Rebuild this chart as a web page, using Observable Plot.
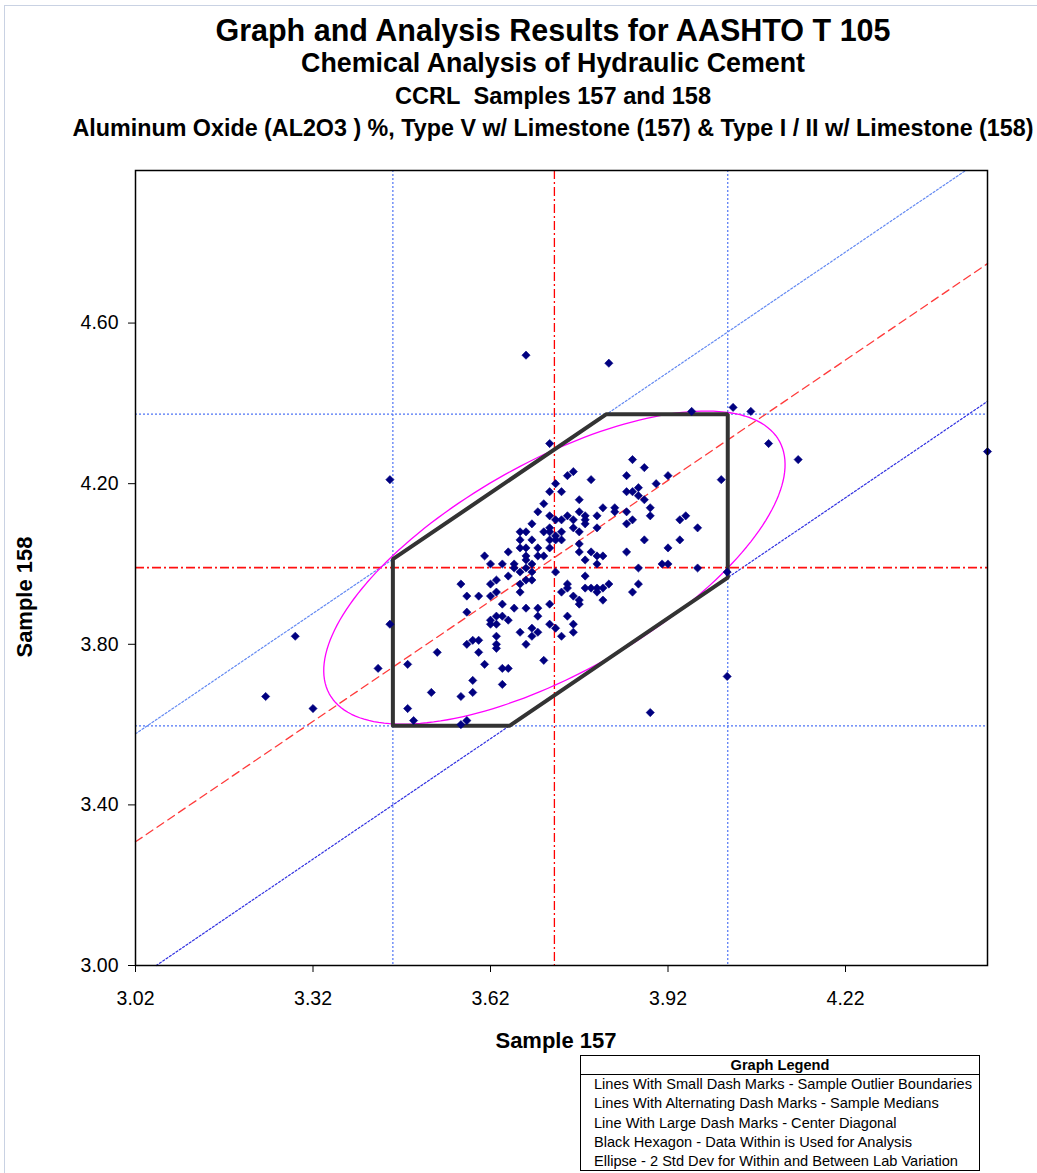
<!DOCTYPE html>
<html>
<head>
<meta charset="utf-8">
<script src="https://cdn.jsdelivr.net/npm/d3@7"></script>
<script src="https://cdn.jsdelivr.net/npm/@observablehq/plot@0.6"></script>
<style>
  html, body { margin: 0; padding: 0; background: #fff; }
  #page { position: relative; width: 1037px; height: 1173px; overflow: hidden;
          font-family: "Liberation Sans", Arial, sans-serif; color: #000; background: #fff; }
  #outer { position: absolute; left: 4px; top: 5px; width: 1100px; height: 1200px;
           border: 1px solid #c9d2e3; box-sizing: border-box; }
  .ttl { position: absolute; left: 0; width: 1106px; text-align: center; font-weight: bold;
         white-space: nowrap; line-height: 1; }
  #chart { position: absolute; left: 0; top: 140px; }
  .axt { position: absolute; font-weight: bold; font-size: 22px; line-height: 1; white-space: nowrap; }
  #xt { left: 0; width: 1112px; text-align: center; top: 1030px; }
  #yt { left: 25px; top: 597px; transform: translate(-50%, -50%) rotate(-90deg); }
  #legend { position: absolute; left: 580px; top: 1055px; width: 400px; height: 116px;
            border: 1px solid #000; box-sizing: border-box; font-size: 14.6px; }
  #legend .hd { font-weight: bold; text-align: center; height: 18px; line-height: 19px;
                border-bottom: 1px solid #000; font-size: 14.6px; }
  #legend .row { padding-left: 13px; height: 19.3px; line-height: 19.3px; white-space: nowrap; }
</style>
</head>
<body>
<div id="page">
  <div id="outer"></div>
  <div class="ttl" style="top:15px; font-size:30.5px">Graph and Analysis Results for AASHTO T 105</div>
  <div class="ttl" style="top:50px; font-size:26.8px">Chemical Analysis of Hydraulic Cement</div>
  <div class="ttl" style="top:84.5px; font-size:23.6px">CCRL&nbsp; Samples 157 and 158</div>
  <div class="ttl" style="top:116.5px; font-size:23.3px">Aluminum Oxide (AL2O3 ) %, Type V w/ Limestone (157) &amp; Type I / II w/ Limestone (158)</div>
  <div id="chart"></div>
  <div class="axt" id="xt">Sample 157</div>
  <div class="axt" id="yt">Sample 158</div>
  <div id="legend">
    <div class="hd">Graph Legend</div>
    <div class="row">Lines With Small Dash Marks - Sample Outlier Boundaries</div>
    <div class="row">Lines With Alternating Dash Marks - Sample Medians</div>
    <div class="row">Line With Large Dash Marks - Center Diagonal</div>
    <div class="row">Black Hexagon - Data Within is Used for Analysis</div>
    <div class="row">Ellipse - 2 Std Dev for Within and Between Lab Variation</div>
  </div>
</div>
<script>
// Axis ranges and tick values (Al2O3, %)
const xDomain = [3.02, 4.46];
const yDomain = [3.00, 4.98];
const xTicks = [3.02, 3.32, 3.62, 3.92, 4.22];
const yTicks = [3.00, 3.40, 3.80, 4.20, 4.60];

// Laboratory results: sample157[i] is paired with sample158[i]
const sample157 = [
  3.68, 3.82, 3.96, 4.03, 4.06, 4.09, 4.14, 4.46, 4.01, 4.02, 4.02, 3.89,
  3.45, 3.45, 3.29, 3.43, 3.48, 3.53, 3.24, 3.32, 3.52, 3.48, 3.49,
  3.72, 3.76, 3.75, 3.73, 3.72, 3.74, 3.77, 3.71, 3.70, 3.72, 3.75, 3.77,
  3.73, 3.74, 3.76, 3.78, 3.69, 3.72, 3.76, 3.77, 3.67, 3.68, 3.71, 3.72,
  3.73, 3.74, 3.67, 3.69, 3.72, 3.73, 3.74, 3.67, 3.68, 3.70, 3.72, 3.65,
  3.68, 3.70, 3.71, 3.61, 3.62, 3.64, 3.66, 3.68, 3.69,
  3.86, 3.88, 3.85, 3.92, 3.79, 3.90, 3.87, 3.85, 3.86, 3.87, 3.88, 3.81,
  3.83, 3.83, 3.89, 3.85, 3.89, 3.78, 3.80, 3.78, 3.85, 3.86, 3.94, 3.95,
  3.97, 3.80, 3.88, 3.94, 3.77, 3.92, 3.77, 3.79, 3.80, 3.81, 3.85, 3.78,
  3.80, 3.87, 3.91, 3.92, 3.97,
  3.66, 3.67, 3.68, 3.69, 3.65, 3.73, 3.57, 3.62, 3.63, 3.67, 3.68, 3.69,
  3.75, 3.75, 3.78, 3.63, 3.67, 3.74, 3.58, 3.60, 3.62, 3.76, 3.77, 3.77,
  3.64, 3.72, 3.66, 3.68, 3.70, 3.58, 3.63, 3.64, 3.70, 3.75, 3.62, 3.65,
  3.62, 3.63, 3.72, 3.76, 3.69, 3.73, 3.67, 3.70, 3.76, 3.63, 3.69, 3.74,
  3.59, 3.60, 3.58, 3.63, 3.68, 3.63, 3.60, 3.71, 3.61, 3.64, 3.65, 3.59,
  3.64, 3.59, 3.57, 3.58, 3.57,
  3.78, 3.79, 3.80, 3.80, 3.81, 3.82, 3.81, 3.86, 3.87
];
const sample158 = [
  4.52, 4.50, 4.38, 4.39, 4.38, 4.30, 4.26, 4.28, 4.21, 3.98, 3.72, 3.63,
  4.21, 3.85, 3.82, 3.74, 3.75, 3.78, 3.67, 3.64, 3.68, 3.64, 3.61,
  4.30, 4.23, 4.22, 4.20, 4.18, 4.18, 4.16, 4.15, 4.13, 4.12, 4.12, 4.13,
  4.11, 4.11, 4.11, 4.11, 4.10, 4.09, 4.09, 4.08, 4.08, 4.08, 4.08, 4.08,
  4.07, 4.08, 4.06, 4.06, 4.06, 4.06, 4.06, 4.04, 4.04, 4.04, 4.04, 4.03,
  4.02, 4.02, 4.02, 4.02, 4.00, 4.00, 4.00, 4.01, 4.00,
  4.26, 4.24, 4.22, 4.22, 4.21, 4.20, 4.19, 4.18, 4.18, 4.17, 4.16, 4.14,
  4.14, 4.13, 4.14, 4.13, 4.12, 4.12, 4.12, 4.10, 4.10, 4.11, 4.11, 4.12,
  4.09, 4.09, 4.06, 4.06, 4.05, 4.04, 4.03, 4.03, 4.02, 4.02, 4.03, 4.01,
  4.00, 3.99, 4.00, 4.00, 3.99,
  3.99, 3.98, 3.99, 3.98, 3.97, 3.98, 3.95, 3.95, 3.96, 3.95, 3.96, 3.96,
  3.95, 3.94, 3.94, 3.93, 3.93, 3.93, 3.92, 3.92, 3.92, 3.92, 3.91, 3.90,
  3.90, 3.90, 3.89, 3.89, 3.89, 3.88, 3.87, 3.87, 3.87, 3.87, 3.86, 3.86,
  3.85, 3.85, 3.85, 3.85, 3.84, 3.84, 3.83, 3.83, 3.83, 3.82, 3.82, 3.82,
  3.81, 3.81, 3.80, 3.80, 3.80, 3.79, 3.78, 3.76, 3.75, 3.74, 3.74, 3.71,
  3.70, 3.68, 3.67, 3.61, 3.60,
  3.97, 3.94, 3.94, 3.93, 3.94, 3.95, 3.91, 3.93, 3.95
];

// Statistics drawn as reference lines
const medianX = 3.728;             // sample 157 median
const medianY = 3.991;             // sample 158 median
const outlierX = [3.455, 4.021];   // sample 157 outlier limits
const outlierY = [3.597, 4.373];   // sample 158 outlier limits
const outlierDiag = [0.557, -0.055]; // diagonal limits, y = x + c
const centerDiag = 0.288;          // center diagonal, y = x + c
const ellipseAxes = [0.502, 0.228]; // 2-sigma semi-axes along / across the diagonal

const points = sample157.map((x, i) => ({x, y: sample158[i]}));

// A 45-degree line y = x + c, cut to the plotting window
function diagonal(c) {
  const x1 = Math.max(xDomain[0], yDomain[0] - c);
  const x2 = Math.min(xDomain[1], yDomain[1] - c);
  return [{x: x1, y: x1 + c}, {x: x2, y: x2 + c}];
}

// Hexagon formed by the six outlier limits
const [xLo, xHi] = outlierX;
const [yLo, yHi] = outlierY;
const [cUp, cLo] = outlierDiag;
const hexagon = [
  {x: xLo, y: yLo}, {x: xLo, y: xLo + cUp}, {x: yHi - cUp, y: yHi},
  {x: xHi, y: yHi}, {x: xHi, y: xHi + cLo}, {x: yLo - cLo, y: yLo}, {x: xLo, y: yLo}
];

// Tilted ellipse about the medians
const [ea, eb] = ellipseAxes;
const ellipse = d3.range(0, 361, 2).map(deg => {
  const t = deg * Math.PI / 180;
  const u = ea * Math.cos(t), v = eb * Math.sin(t);
  return {x: medianX + (u - v) / Math.SQRT2, y: medianY + (u + v) / Math.SQRT2};
});

const font = "'Liberation Sans', Arial, sans-serif";
const dotted = "2,2";
const limitBlue = "#4f74f5";
const medianDash = "9,3,2,3";

const chart = Plot.plot({
  width: 1037,
  height: 940,
  marginTop: 30,
  marginRight: 50,
  marginBottom: 115,
  marginLeft: 135,
  x: {domain: xDomain},
  y: {domain: yDomain},
  style: {fontFamily: font, fontSize: "19px", color: "#000", background: "transparent"},
  marks: [
    Plot.ruleX(outlierX, {stroke: limitBlue, strokeWidth: 1.2, strokeDasharray: dotted}),
    Plot.ruleY(outlierY, {stroke: limitBlue, strokeWidth: 1.2, strokeDasharray: dotted}),
    Plot.line(diagonal(cUp), {x: "x", y: "y", stroke: "#6389f2", strokeWidth: 1.2, strokeDasharray: dotted}),
    Plot.line(diagonal(cLo), {x: "x", y: "y", stroke: "#2f2fe0", strokeWidth: 1.2, strokeDasharray: dotted}),
    Plot.ruleX([medianX], {stroke: "#ff0000", strokeWidth: 1.3, strokeDasharray: medianDash}),
    Plot.ruleY([medianY], {stroke: "#ff1010", strokeWidth: 1.6, strokeDasharray: medianDash}),
    Plot.line(diagonal(centerDiag), {x: "x", y: "y", stroke: "#ff3b3b", strokeWidth: 1.3, strokeDasharray: "8,5"}),
    Plot.line(ellipse, {x: "x", y: "y", stroke: "#ff00ff", strokeWidth: 1.3}),
    Plot.line(hexagon, {x: "x", y: "y", stroke: "#333333", strokeWidth: 4, strokeLinejoin: "miter"}),
    Plot.dot(points, {x: "x", y: "y", symbol: "diamond2", r: 3.7, fill: "#000080", stroke: "#000080", strokeWidth: 0.6}),
    Plot.frame({stroke: "#000", strokeWidth: 1.5}),
    Plot.axisX({ticks: xTicks, tickFormat: d => d.toFixed(2), tickSize: 7, tickPadding: 19,
                label: null, fontSize: 19.5, fontFamily: font}),
    Plot.axisY({ticks: yTicks, tickFormat: d => d.toFixed(2), tickSize: 7, tickPadding: 10,
                label: null, fontSize: 19.5, fontFamily: font})
  ]
});
document.getElementById("chart").appendChild(chart);
</script>
</body>
</html>
